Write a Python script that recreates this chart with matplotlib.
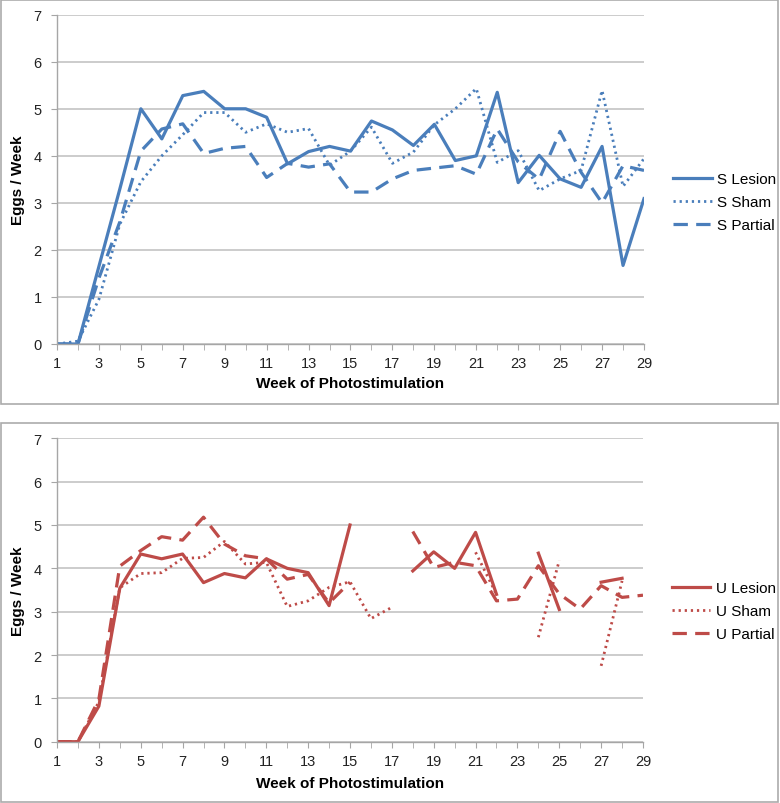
import matplotlib.pyplot as plt
import matplotlib.patches as patches
import numpy as np

plt.rcParams['font.family'] = ['Liberation Sans', 'DejaVu Sans']

weeks = list(range(1, 30))
nan = np.nan

# S group (top panel)
s_lesion = [0, 0, 1.65, 3.3, 5.0, 4.36, 5.28, 5.37, 5.0, 5.0, 4.82, 3.83, 4.09, 4.2, 4.1,
            4.74, 4.55, 4.22, 4.67, 3.9, 4.0, 5.35, 3.43, 4.01, 3.51, 3.33, 4.2, 1.67, 3.09]
s_sham = [0, 0.06, 0.95, 2.55, 3.45, 4.0, 4.45, 4.92, 4.92, 4.5, 4.68, 4.5, 4.58, 3.8, 4.1,
          4.61, 3.84, 4.08, 4.66, 5.0, 5.43, 3.86, 4.11, 3.26, 3.51, 3.69, 5.39, 3.35, 3.94]
s_partial = [0, 0, 1.4, 2.6, 4.1, 4.57, 4.68, 4.05, 4.16, 4.2, 3.54, 3.84, 3.76, 3.83, 3.23,
             3.23, 3.51, 3.69, 3.74, 3.79, 3.61, 4.57, 3.87, 3.5, 4.52, 3.65, 3.0, 3.79, 3.69]

# U group (bottom panel)
u_lesion = [0, 0, 0.82, 3.54, 4.33, 4.22, 4.33, 3.67, 3.88, 3.78, 4.22, 4.0, 3.9, 3.14, 5.0,
            nan, nan, 3.94, 4.38, 4.0, 4.83, 3.4, nan, 4.35, 3.05, nan, 3.68, 3.77, nan]
u_sham = [0, 0, 0.92, 3.55, 3.88, 3.9, 4.23, 4.25, 4.62, 4.1, 4.14, 3.12, 3.25, 3.56, 3.69,
          2.84, 3.1, nan, nan, nan, 4.37, 3.4, nan, 2.41, 4.18, nan, 1.75, 3.71, nan]
u_partial = [0, 0, 0.98, 4.05, 4.41, 4.73, 4.65, 5.18, 4.56, 4.29, 4.22, 3.75, 3.86, 3.2, 3.68,
             nan, nan, 4.85, 4.02, 4.14, 4.06, 3.25, 3.29, 4.06, 3.41, 3.06, 3.6, 3.33, 3.38]

blue = '#4A7EBB'
red = '#BE4B48'
grid_c = '#BEBEBE'

fig = plt.figure(figsize=(7.8, 8.04), dpi=100)

# panel frames
fig.add_artist(patches.Rectangle((0.001, 1 - 405/804), 0.996, 404/804, transform=fig.transFigure,
                                 fill=False, edgecolor='#ABABAB', lw=1.2))
fig.add_artist(patches.Rectangle((0.001, 0.001), 0.996, (803 - 424)/804, transform=fig.transFigure,
                                 fill=False, edgecolor='#ABABAB', lw=1.2))

ax1 = fig.add_axes([57/780, 1 - 345/804, 587/780, (345 - 15.7)/804])
ax2 = fig.add_axes([57/780, 1 - 742.7/804, 586/780, (742.7 - 439.3)/804])

dot = (0, (0.8, 1.4))
dash = (0, (4.5, 2.6))


def style(ax, xlab_y, leg_y):
    ax.set_xlim(1, 29)
    ax.set_ylim(0, 7)
    ax.set_xticks(range(1, 30, 2))
    ax.set_xticks(range(1, 30), minor=True)
    ax.set_yticks(range(0, 8))
    ax.yaxis.grid(True, color=grid_c, lw=1.1)
    ax.set_axisbelow(True)
    for s in ['top', 'right']:
        ax.spines[s].set_visible(False)
    for s in ['left', 'bottom']:
        ax.spines[s].set_color('#A6A6A6')
        ax.spines[s].set_linewidth(1.0)
    ax.tick_params(which='both', direction='out', length=4, color='#A6A6A6',
                   labelsize=10.5, labelcolor='#222222')
    ax.tick_params(axis='x', pad=5)
    ax.tick_params(axis='y', pad=7)
    ax.set_xlabel('Week of Photostimulation', fontsize=11, fontweight='bold', va='center')
    ax.set_ylabel('Eggs / Week', fontsize=11, fontweight='bold', va='center')
    ax.xaxis.set_label_coords(0.5, xlab_y)
    ax.yaxis.set_label_coords(-39/587, 0.5)
    ax.legend(loc='center left', bbox_to_anchor=(1.05, leg_y), frameon=False,
              fontsize=11, handlelength=2.5, handletextpad=0.35, labelspacing=0.6,
              borderpad=0, borderaxespad=0)


ax1.plot(weeks, s_lesion, color=blue, lw=2.3, label='S Lesion')
ax1.plot(weeks, s_sham, color=blue, lw=2.0, ls=dot, label='S Sham')
ax1.plot(weeks, s_partial, color=blue, lw=2.3, ls=dash, label='S Partial')
style(ax1, -39/329.3, 0.431)

ax2.plot(weeks, u_lesion, color=red, lw=2.3, label='U Lesion')
ax2.plot(weeks, u_sham, color=red, lw=2.0, ls=dot, label='U Sham')
ax2.plot(weeks, u_partial, color=red, lw=2.3, ls=dash, label='U Partial')
style(ax2, -41.5/303.4, 0.43)

fig.savefig('out.png', dpi=100)
